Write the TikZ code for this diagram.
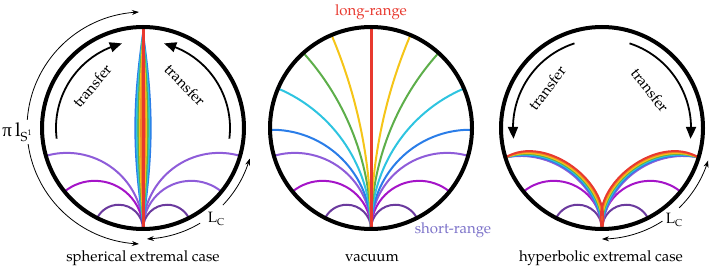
\documentclass[tikz,border=0pt]{standalone}
\usepackage{fontspec}
\setmainfont{TeX Gyre Pagella}
\newfontfamily\pif{Liberation Serif}
\usetikzlibrary{arrows.meta,calc,bending}
\definecolor{cred}{HTML}{E8392F}
\definecolor{corange}{HTML}{F08A24}
\definecolor{cyellow}{HTML}{F5C518}
\definecolor{cgreen}{HTML}{5DAE4A}
\definecolor{ccyan}{HTML}{2EC4E0}
\definecolor{cblue}{HTML}{2A7DE8}
\definecolor{clav}{HTML}{8E5CD9}
\definecolor{cmag}{HTML}{A514C8}
\definecolor{cdpur}{HTML}{6B3A9E}
\definecolor{cshort}{HTML}{7C72C9}
\newcommand{\geoL}[3]{%
  \pgfmathsetmacro{\gRad}{101*tan((270-#2)/2)}%
  \pgfmathsetmacro{\gEnd}{#2-90}%
  \draw[geo,#3] (B#1) arc[start angle=0,end angle=\gEnd,radius=\gRad pt];}
\newcommand{\geoR}[3]{%
  \pgfmathsetmacro{\gRad}{101*tan((270-#2)/2)}%
  \pgfmathsetmacro{\gEnd}{270-#2}%
  \draw[geo,#3] (B#1) arc[start angle=180,end angle=\gEnd,radius=\gRad pt];}
\begin{document}
\begin{tikzpicture}[x=1pt,y=1pt,font=\fontsize{15}{18}\selectfont,
  bigc/.style={line width=4pt},
  geo/.style={line width=2pt},
  thinarr/.style={line width=0.8pt,-{Stealth[length=7pt,width=5pt,bend]}},
  tarr/.style={line width=1.8pt,-{Triangle[length=12pt,width=10pt,bend]}},
  lbl/.style={inner sep=0pt}]
\useasboundingbox (0,0) rectangle (714,270);
\coordinate (C1) at (143,142);
\coordinate (C2) at (371,142);
\coordinate (C3) at (602,142);
\foreach \i in {1,2,3}{
  \coordinate (B\i) at ($(C\i)+(0,-101)$);
  \coordinate (T\i) at ($(C\i)+(0,101)$);
}
% ---------- spherical ----------
\geoL{1}{196}{clav}\geoL{1}{219}{cmag}\geoL{1}{243}{cdpur}
\geoR{1}{196}{clav}\geoR{1}{219}{clav}\geoR{1}{243}{cdpur}
\fill[cblue] (B1) to[bend left=8.4] (T1) to[bend left=8.4] (B1);
\fill[ccyan] (B1) to[bend left=6.9] (T1) to[bend left=6.9] (B1);
\fill[cgreen] (B1) to[bend left=5.4] (T1) to[bend left=5.4] (B1);
\fill[cyellow] (B1) to[bend left=4.0] (T1) to[bend left=4.0] (B1);
\fill[corange] (B1) to[bend left=2.7] (T1) to[bend left=2.7] (B1);
\draw[cred,line width=3pt] (B1) -- (T1);
% ---------- vacuum ----------
\geoL{2}{243}{cdpur}\geoR{2}{243}{cdpur}
\geoL{2}{219}{cmag}\geoR{2}{219}{cmag}
\geoL{2}{196}{clav}\geoR{2}{196}{clav}
\geoL{2}{181}{cblue}\geoR{2}{181}{cblue}
\geoL{2}{157}{ccyan}\geoR{2}{157}{ccyan}
\geoL{2}{132}{cgreen}\geoR{2}{132}{cgreen}
\geoL{2}{113}{cyellow}\geoR{2}{113}{cyellow}
\draw[cred,line width=3pt] (B2) -- (T2);
% ---------- hyperbolic ----------
\geoL{3}{243}{cdpur}\geoR{3}{243}{cdpur}
\geoL{3}{219}{cmag}\geoR{3}{219}{cmag}
\coordinate (EL) at ($(C3)+(197:101)$);
\coordinate (ER) at ($(C3)+(-17:101)$);
\foreach \b/\c in {48/clav,51/cblue,54/ccyan,57/cgreen,60/cyellow,64/corange,68/cred}{
  \draw[geo,\c] (B3) to[bend right=\b] (EL);
  \draw[geo,\c] (B3) to[bend left=\b] (ER);
}
% ---------- circles ----------
\foreach \i in {1,2,3}{ \draw[bigc] (C\i) circle[radius=101]; }
% ---------- transfer arrows ----------
\draw[tarr] ($(C1)+(187:87)$) arc[start angle=187,end angle=104,radius=87];
\draw[tarr] ($(C1)+(-7:87)$) arc[start angle=-7,end angle=76,radius=87];
\draw[tarr] ($(C3)+(108:89)$) arc[start angle=108,end angle=187,radius=89];
\draw[tarr] ($(C3)+(72:89)$) arc[start angle=72,end angle=-7,radius=89];
\node[rotate=50] (t1L) at (92,184) {transfer};
\node[rotate=-46] (t1R) at (185,185) {transfer};
\node[rotate=53] (t3L) at (547,182) {transfer};
\node[rotate=-52] (t3R) at (650,180) {transfer};
% ---------- outer thin arrows ----------
\draw[thinarr] ($(C1)+(176:116)$) arc[start angle=176,end angle=92,radius=116];
\draw[thinarr] ($(C1)+(188:116)$) arc[start angle=188,end angle=268,radius=116];
\node[lbl] (pil) at (17,138) {\fontsize{19}{22}\selectfont{\pif π}\,l\raisebox{-0.6ex}{\fontsize{13}{15}\selectfont S\raisebox{1.0ex}{\fontsize{8}{9}\selectfont 1}}};
\draw[thinarr] ($(C1)+(-44:111)$) arc[start angle=-44,end angle=-16,radius=111];
\draw[thinarr] ($(C1)+(-59:111)$) arc[start angle=-59,end angle=-88,radius=111];
\node[lbl] (lc1) at (216,51) {L\raisebox{-0.4ex}{\fontsize{10}{12}\selectfont C}};
\draw[thinarr] ($(C3)+(-46:111)$) arc[start angle=-46,end angle=-17,radius=111];
\draw[thinarr] ($(C3)+(-57:111)$) arc[start angle=-57,end angle=-90,radius=111];
\node[lbl] (lc3) at (674,50) {L\raisebox{-0.4ex}{\fontsize{10}{12}\selectfont C}};
% ---------- captions ----------
\node[lbl] (cap1) at (143,12) {spherical extremal case};
\node[lbl] (cap2) at (372,12) {vacuum};
\node[lbl] (cap3) at (601,12) {hyperbolic extremal case};
\node[lbl,text=cred] (lr) at (371,258) {long-range};
\node[lbl,text=cshort] (sr) at (453,40) {short-range};
\end{tikzpicture}
\end{document}
